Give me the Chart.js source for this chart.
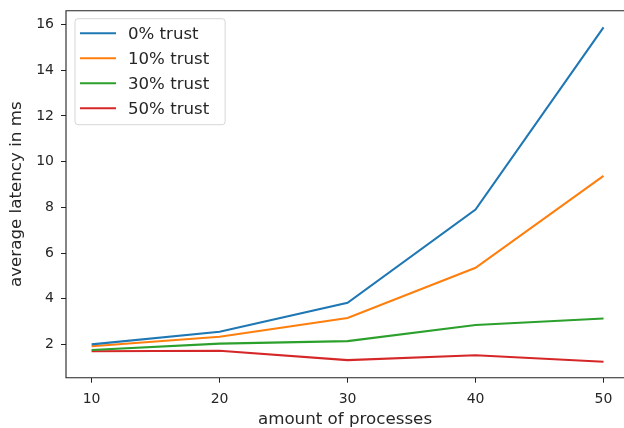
<!DOCTYPE html>
<html>
<head>
<meta charset="utf-8">
<script src="https://cdn.jsdelivr.net/npm/chart.js@4/dist/chart.umd.min.js"></script>
<style>
  html, body { margin: 0; padding: 0; background: #fff; overflow: hidden; }
  #wrap { position: absolute; left: 0; top: 0; width: 624px; height: 428px; }
</style>
</head>
<body>
<div id="wrap"><canvas id="chart" width="624" height="428"></canvas></div>
<script>
// Latency data
const processCounts = [10, 20, 30, 40, 50];
const trust0 = [2.0, 2.55, 3.82, 7.9, 15.88];
const trust10 = [1.92, 2.33, 3.15, 5.35, 9.38];
const trust30 = [1.75, 2.03, 2.14, 2.85, 3.13];
const trust50 = [1.7, 1.72, 1.31, 1.52, 1.24];
const seriesLabels = ['0% trust', '10% trust', '30% trust', '50% trust'];
const seriesColors = ['#1f77b4', '#ff7f0e', '#2ca02c', '#d62728'];
const xTicks = [10, 20, 30, 40, 50];
const yTicks = [2, 4, 6, 8, 10, 12, 14, 16];

const FONT = 'DejaVu Sans';
const TEXT = '#262626';

function toPoints(values) {
    return processCounts.map((x, i) => ({ x: x, y: values[i] }));
}

// spines + legend drawn inside the plot, matplotlib style
const framePlugin = {
    id: 'frame',
    afterDatasetsDraw(chart) {
        const { ctx, chartArea: a } = chart;
        ctx.save();
        ctx.strokeStyle = '#222';
        ctx.lineWidth = 1.1;
        ctx.beginPath();
        ctx.moveTo(a.right + 2, a.top);
        ctx.lineTo(a.left, a.top);
        ctx.lineTo(a.left, a.bottom);
        ctx.lineTo(a.right + 2, a.bottom);
        ctx.stroke();

        // legend
        ctx.font = '16.6px "' + FONT + '"';
        const sets = chart.data.datasets;
        let maxW = 0;
        sets.forEach(ds => { maxW = Math.max(maxW, ctx.measureText(ds.label).width); });
        const bx = a.left + 9, by = a.top + 8;
        const bw = 62 + maxW + 7, bh = 106;
        ctx.beginPath();
        ctx.roundRect(bx, by, bw, bh, 3);
        ctx.fillStyle = 'rgba(255,255,255,0.8)';
        ctx.fill();
        ctx.strokeStyle = 'rgba(204,204,204,0.8)';
        ctx.lineWidth = 1;
        ctx.stroke();
        sets.forEach((ds, i) => {
            const y = by + 14.6 + i * 25;
            ctx.strokeStyle = ds.borderColor;
            ctx.lineWidth = 2.1;
            ctx.beginPath();
            ctx.moveTo(bx + 5, y);
            ctx.lineTo(bx + 41, y);
            ctx.stroke();
            ctx.fillStyle = TEXT;
            ctx.textBaseline = 'middle';
            ctx.textAlign = 'left';
            ctx.fillText(ds.label, bx + 53, y + 1);
        });
        ctx.restore();
    }
};

const allSeries = [trust0, trust10, trust30, trust50];

new Chart(document.getElementById('chart').getContext('2d'), {
    type: 'line',
    data: {
        datasets: allSeries.map((vals, i) => ({
            label: seriesLabels[i],
            data: toPoints(vals),
            borderColor: seriesColors[i],
            backgroundColor: seriesColors[i],
            borderWidth: 2.1,
            pointRadius: 0,
            tension: 0,
            fill: false
        }))
    },
    options: {
        responsive: false,
        animation: false,
        layout: { padding: { left: 0, top: 10.7, right: 0, bottom: 0 } },
        plugins: {
            legend: { display: false },
            tooltip: { enabled: false }
        },
        scales: {
            x: {
                type: 'linear',
                min: 8,
                max: 51.6,
                afterBuildTicks: s => { s.ticks = xTicks.map(v => ({ value: v })); },
                afterFit: s => { s.height = 50.3; s.paddingLeft = 0; s.paddingRight = 0; },
                border: { display: false },
                grid: { drawOnChartArea: false, tickLength: 5, tickColor: '#222', lineWidth: 1 },
                ticks: { color: TEXT, padding: 8, font: { family: FONT, size: 14 }, maxRotation: 0 },
                title: { display: true, text: 'amount of processes', color: TEXT,
                         font: { family: FONT, size: 16.7, lineHeight: 1 }, padding: { top: 0, bottom: 0 } }
            },
            y: {
                type: 'linear',
                min: 0.54,
                max: 16.61,
                afterBuildTicks: s => { s.ticks = yTicks.map(v => ({ value: v })); },
                afterFit: s => { s.width = 66; s.paddingTop = 0; s.paddingBottom = 0; },
                border: { display: false },
                grid: { drawOnChartArea: false, tickLength: 5, tickColor: '#222', lineWidth: 1 },
                ticks: { color: TEXT, padding: 7, font: { family: FONT, size: 14 } },
                title: { display: true, text: 'average latency in ms', color: TEXT,
                         font: { family: FONT, size: 16.7 }, padding: { top: 6.5, bottom: 6.5 } }
            }
        }
    },
    plugins: [framePlugin]
});
</script>
</body>
</html>
